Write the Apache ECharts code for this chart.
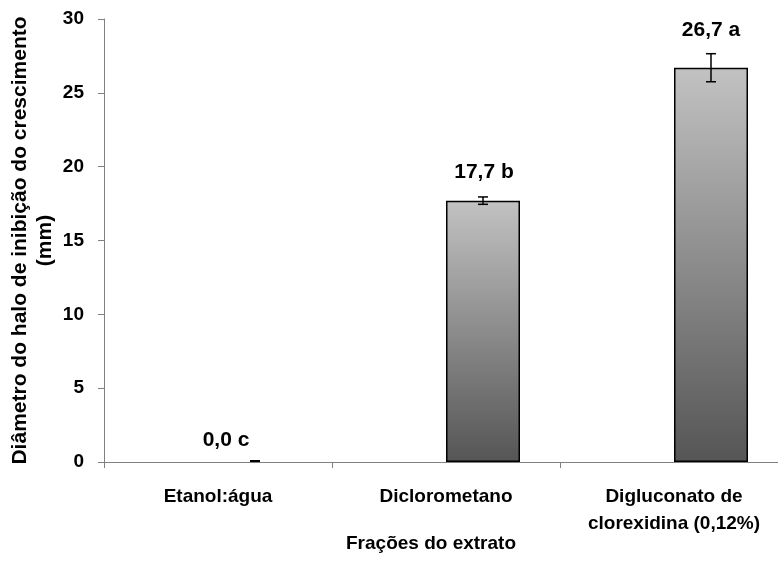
<!DOCTYPE html>
<html>
<head>
<meta charset="utf-8">
<script src="https://cdn.jsdelivr.net/npm/echarts@6/dist/echarts.min.js"></script>
<style>html,body{margin:0;padding:0;background:#fff}#c{width:778px;height:568px}</style>
</head>
<body>
<div id="c"></div>
<script>
var categories = ['Etanol:água', 'Diclorometano', 'Digluconato de\nclorexidina (0,12%)'];
var values = [0.0, 17.7, 26.7];
var errors = [0.0, 0.25, 0.95];
var letters = ['c', 'b', 'a'];
var yTicks = [0, 5, 10, 15, 20, 25, 30];

var BAR_W = 74;
var FONT = '"Liberation Sans", Arial, sans-serif';
var labelOffsets = [[-29, -11], [1, -18], [0, -27]];

var chart = echarts.init(document.getElementById('c'), null, {renderer: 'canvas'});

var barData = values.map(function (v, i) {
  return {
    value: v,
    itemStyle: v === 0 ? {borderWidth: 0} : undefined,
    label: {
      show: true,
      position: 'top',
      distance: 0,
      offset: labelOffsets[i],
      formatter: v.toFixed(1).replace('.', ',') + ' ' + letters[i],
      fontFamily: FONT, fontWeight: 'bold', fontSize: 21, color: '#000'
    }
  };
});

var errData = values.map(function (v, i) { return [i, v - errors[i], v + errors[i]]; });

chart.setOption({
  animation: false,
  grid: {left: 104, right: -10, top: 19, bottom: 106, containLabel: false, outerBoundsMode: 'none'},
  xAxis: {
    type: 'category',
    data: categories,
    boundaryGap: true,
    axisLine: {lineStyle: {color: '#808080', width: 1}},
    axisTick: {show: true, alignWithLabel: false, length: 6, lineStyle: {color: '#808080'}},
    axisLabel: {fontFamily: FONT, fontWeight: 'bold', fontSize: 19, color: '#000', margin: 21, lineHeight: 27, interval: 0},
    name: 'Frações do extrato',
    nameLocation: 'middle',
    nameGap: 72,
    nameMoveOverlap: false,
    nameTextStyle: {fontFamily: FONT, fontWeight: 'bold', fontSize: 19, color: '#000', padding: [0, 30, 0, 0]}
  },
  yAxis: {
    type: 'value',
    min: 0, max: 30, interval: 5,
    splitLine: {show: false},
    axisLine: {show: true, lineStyle: {color: '#808080', width: 1}},
    axisTick: {show: true, length: 6, lineStyle: {color: '#808080'}},
    axisLabel: {fontFamily: FONT, fontWeight: 'bold', fontSize: 19, color: '#000', margin: 20,
      formatter: function (v) { return yTicks.indexOf(v) >= 0 ? String(v) : ''; }},
    name: 'Diâmetro do halo de inibição do crescimento\n(mm)',
    nameLocation: 'middle',
    nameRotate: 90,
    nameGap: 46,
    nameMoveOverlap: false,
    nameTextStyle: {fontFamily: FONT, fontWeight: 'bold', fontSize: 21, color: '#000', lineHeight: 25, align: 'center'}
  },
  series: [
    {type: 'bar', data: values.map(function () { return null; }), barWidth: BAR_W, barGap: '0%', silent: true},
    {
      type: 'bar',
      data: barData,
      barWidth: BAR_W,
      barGap: '0%',
      itemStyle: {
        color: new echarts.graphic.LinearGradient(0, 0, 0, 1, [
          {offset: 0, color: '#c2c2c2'},
          {offset: 1, color: '#555555'}
        ]),
        borderColor: '#000',
        borderWidth: 1.5
      },
      z: 2
    },
    {
      type: 'custom',
      data: errData,
      z: 5,
      renderItem: function (params, api) {
        var idx = api.value(0);
        var lo = api.coord([idx, api.value(1)]);
        var hi = api.coord([idx, api.value(2)]);
        var x = lo[0] + BAR_W / 2;
        var cap = 5;
        if (Math.abs(hi[1] - lo[1]) < 1) {
          return {type: 'line', shape: {x1: x - cap, y1: lo[1] - 1, x2: x + cap, y2: lo[1] - 1}, style: {stroke: '#000', lineWidth: 2}};
        }
        return {
          type: 'group',
          children: [
            {type: 'line', shape: {x1: x, y1: lo[1], x2: x, y2: hi[1]}, style: {stroke: '#000', lineWidth: 1.5}},
            {type: 'line', shape: {x1: x - cap, y1: lo[1], x2: x + cap, y2: lo[1]}, style: {stroke: '#000', lineWidth: 1.5}},
            {type: 'line', shape: {x1: x - cap, y1: hi[1], x2: x + cap, y2: hi[1]}, style: {stroke: '#000', lineWidth: 1.5}}
          ]
        };
      }
    }
  ]
});
</script>
</body>
</html>
